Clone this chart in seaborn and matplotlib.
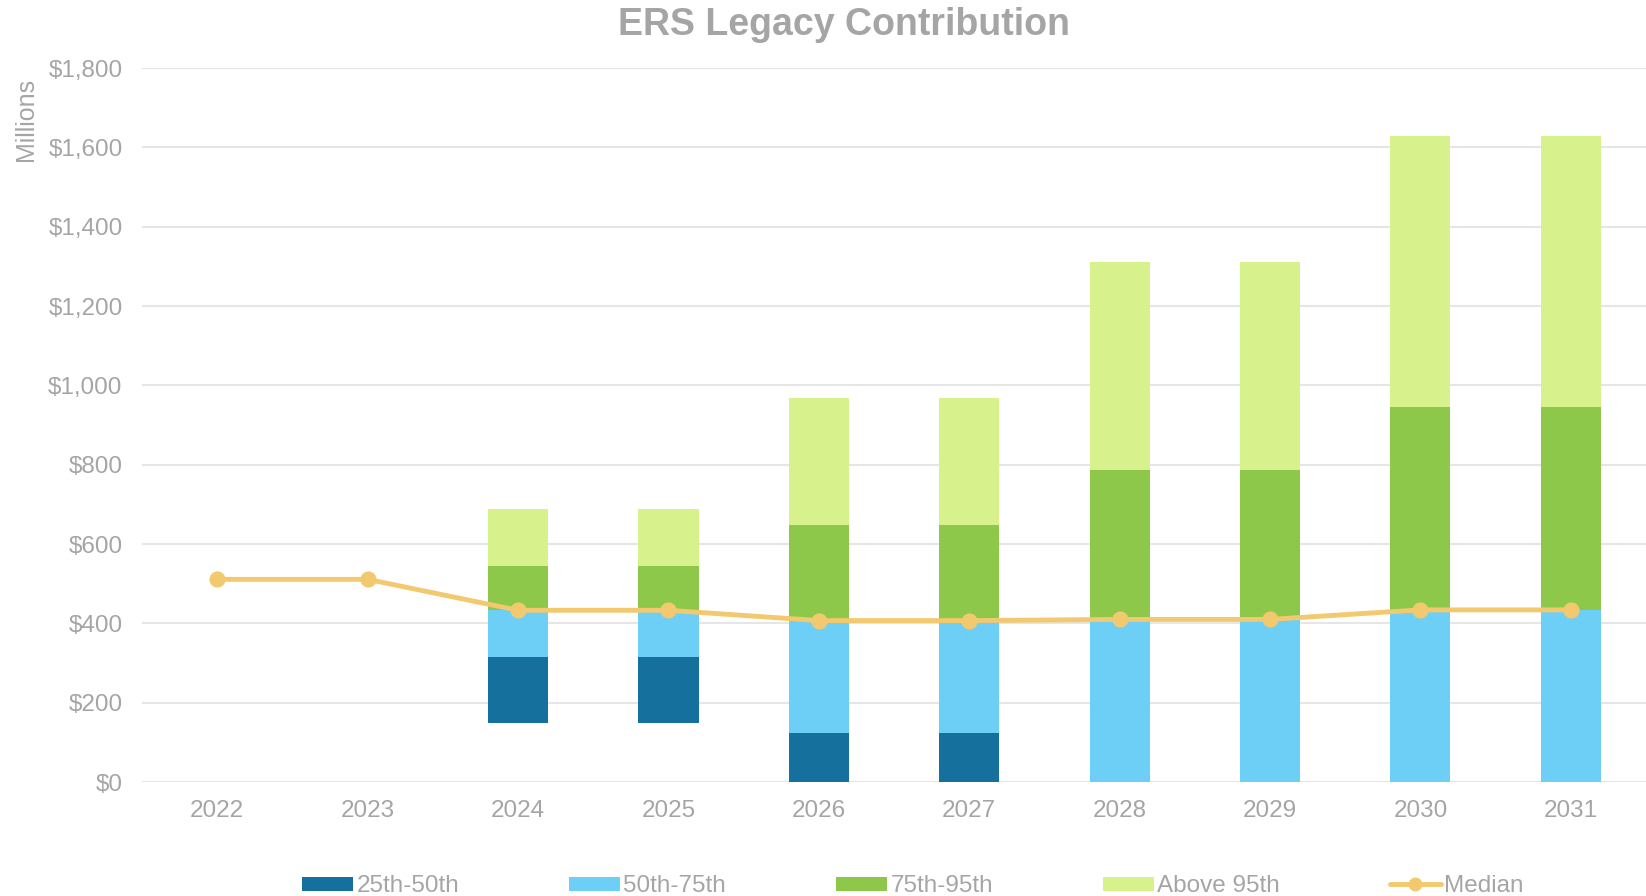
import numpy as np
import pandas as pd
import matplotlib
matplotlib.use('Agg')
import matplotlib.pyplot as plt
import seaborn as sns
from matplotlib.patches import Patch
from matplotlib.lines import Line2D
from matplotlib.ticker import FuncFormatter

# data ($ millions)
years = ['2022', '2023', '2024', '2025', '2026', '2027', '2028', '2029', '2030', '2031']
base = [0, 0, 150, 150, 0, 0, 0, 0, 0, 0]          # floor of the 25th-50th band
seg_25_50 = [0, 0, 166, 166, 123, 123, 0, 0, 0, 0]
seg_50_75 = [0, 0, 117, 117, 285, 285, 410, 410, 434, 434]
seg_75_95 = [0, 0, 112, 112, 240, 240, 376, 376, 511, 511]
seg_above_95 = [0, 0, 143, 143, 320, 320, 526, 526, 685, 685]
median = [511, 511, 433, 433, 407, 407, 410, 410, 434, 434]

labels = ['25th-50th', '50th-75th', '75th-95th', 'Above 95th']
colors = ['#15709E', '#6DCFF6', '#8DC84B', '#D7F28C']
line_col = '#F2C96E'
grey = '#A5A5A5'

sns.set_style('white')
plt.rcParams['font.family'] = ['Liberation Sans', 'DejaVu Sans']

df = pd.DataFrame({'Year': years, 'base': base, labels[0]: seg_25_50,
                   labels[1]: seg_50_75, labels[2]: seg_75_95, labels[3]: seg_above_95,
                   'Median': median})

fig = plt.figure(figsize=(16.46, 8.96), dpi=100)
ax = fig.add_axes([0.0863, 0.1272, 0.9137, 0.7968])

bottom = np.array(base, dtype=float)
for lab, col in zip(labels, colors):
    sns.barplot(data=df, x='Year', y=lab, color=col, width=0.4, bottom=bottom,
                linewidth=0, saturation=1, ax=ax, zorder=2)
    bottom = bottom + df[lab].to_numpy()

sns.pointplot(data=df, x='Year', y='Median', color=line_col, markers='o',
              linewidth=3.5, markersize=9, ax=ax, zorder=3)

ax.set_ylim(0, 1800)
ax.set_xlim(-0.5, 9.5)
ax.set_yticks(range(0, 1801, 200))
ax.yaxis.set_major_formatter(FuncFormatter(lambda v, p: f'${v:,.0f}'))
ax.grid(axis='y', color='#E6E6E6', linewidth=1.5, zorder=0)
ax.set_axisbelow(True)
for s in ax.spines.values():
    s.set_visible(False)
ax.set_xlabel('')
ax.set_ylabel('')
ax.tick_params(axis='y', length=0, pad=14, labelsize=17.5, labelcolor=grey)
ax.tick_params(axis='x', length=0, pad=13, labelsize=17.5, labelcolor=grey)

fig.text(0.513, 0.972, 'ERS Legacy Contribution', ha='center', va='center',
         fontsize=27, fontweight='bold', color=grey)
fig.text(0.016, 0.867, 'Millions', rotation=90, ha='center', va='center',
         fontsize=18, color=grey)

handles = [Patch(facecolor=c, edgecolor='none') for c in colors]
handles.append(Line2D([], [], color=line_col, lw=3.5, marker='o', markersize=9))
fig.legend(handles, labels + ['Median'], loc='lower left', ncol=5, mode='expand',
           bbox_to_anchor=(0.170, -0.026, 0.769, 0.04), frameon=False,
           fontsize=17.5, labelcolor=grey, handlelength=2.1, handleheight=0.55,
           handletextpad=0.15)

fig.savefig('out.png', dpi=100)
